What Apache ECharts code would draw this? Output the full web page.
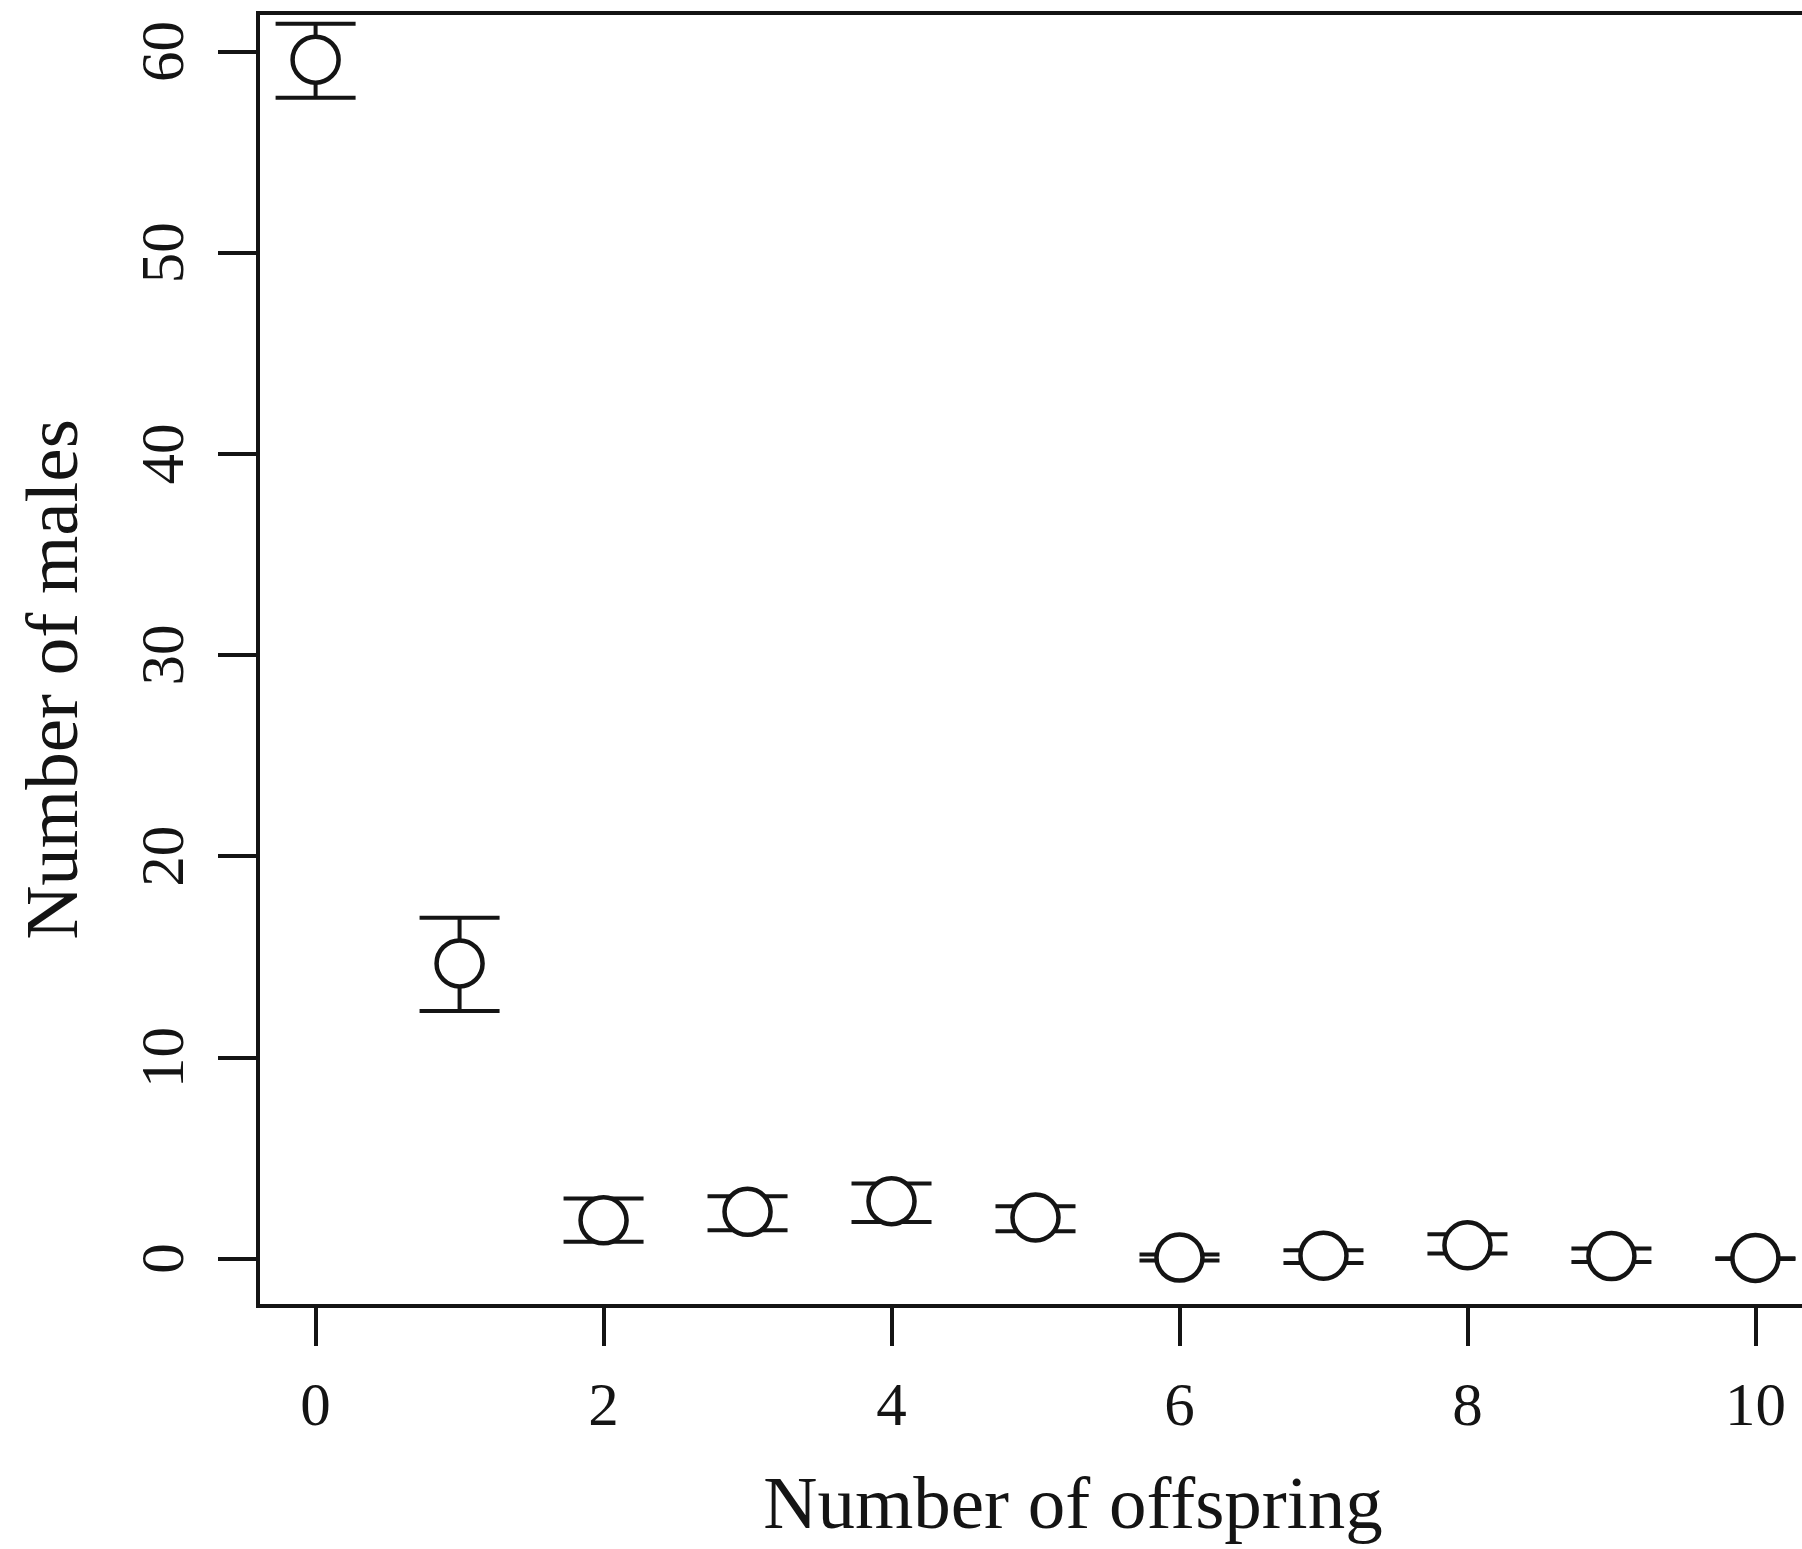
<!DOCTYPE html>
<html>
<head>
<meta charset="utf-8">
<script src="https://cdn.jsdelivr.net/npm/echarts@6/dist/echarts.min.js"></script>
<style>html,body{margin:0;padding:0;background:#fff;}#c{width:1802px;height:1549px;}</style>
</head>
<body>
<div id="c"></div>
<script>
// Data
var offspring = [0, 1, 2, 3, 4, 5, 6, 7, 8, 9, 10];
var meanMales = [59.6, 14.67, 1.9, 2.32, 2.85, 2.04, 0.05, 0.14, 0.66, 0.12, 0.03];
var lowerMales = [57.71, 12.30, 0.83, 1.41, 1.82, 1.36, -0.1, -0.22, 0.25, -0.17, -0.02];
var upperMales = [61.38, 16.94, 2.98, 3.10, 3.73, 2.60, 0.2, 0.41, 1.21, 0.50, 0.02];
var xTickLabels = [0, 2, 4, 6, 8, 10];
var yTickLabels = [0, 10, 20, 30, 40, 50, 60];

var points = offspring.map(function (x, i) { return [x, meanMales[i]]; });
var bars = offspring.map(function (x, i) { return [x, lowerMales[i], upperMales[i]]; });

var FONT = '"Liberation Serif", "Times New Roman", serif';
var INK = '#141414';

var chart = echarts.init(document.getElementById('c'), null, { renderer: 'canvas' });
chart.setOption({
  backgroundColor: '#ffffff',
  animation: false,
  grid: {
    left: 258, top: 13, bottom: 243, width: 1555,
    outerBoundsMode: 'none',
    show: true, borderColor: INK, borderWidth: 4, backgroundColor: 'transparent',
    containLabel: false
  },
  xAxis: {
    type: 'value', min: -0.4, max: 10.4,
    name: 'Number of offspring', nameLocation: 'middle', nameGap: 165,
    nameTextStyle: { fontFamily: FONT, fontSize: 75, color: INK, padding: [0, 0, 0, 75] },
    axisLine: { show: false, onZero: false },
    splitLine: { show: false },
    axisTick: { show: true, inside: false, length: 40, lineStyle: { color: INK, width: 4 }, customValues: xTickLabels },
    axisLabel: { show: true, margin: 72, fontFamily: FONT, fontSize: 61, color: INK, customValues: xTickLabels }
  },
  yAxis: {
    type: 'value', min: -2.36, max: 61.92,
    name: 'Number of males', nameLocation: 'middle', nameGap: 163, nameRotate: 90,
    nameTextStyle: { fontFamily: FONT, fontSize: 75, color: INK, padding: [0, 40, 0, 0] },
    axisLine: { show: false, onZero: false },
    splitLine: { show: false },
    axisTick: { show: true, inside: false, length: 40, lineStyle: { color: INK, width: 4 }, customValues: yTickLabels },
    axisLabel: { show: true, rotate: 90, margin: 61, fontFamily: FONT, fontSize: 61, color: INK, customValues: yTickLabels }
  },
  series: [
    {
      type: 'custom',
      z: 2,
      data: bars,
      renderItem: function (params, api) {
        var x = api.value(0);
        var lo = api.coord([x, api.value(1)]);
        var hi = api.coord([x, api.value(2)]);
        var half = 40;
        var st = { stroke: INK, lineWidth: 4, fill: null };
        return {
          type: 'group',
          children: [
            { type: 'line', shape: { x1: lo[0], y1: lo[1], x2: hi[0], y2: hi[1] }, style: st },
            { type: 'line', shape: { x1: lo[0] - half, y1: lo[1], x2: lo[0] + half, y2: lo[1] }, style: st },
            { type: 'line', shape: { x1: hi[0] - half, y1: hi[1], x2: hi[0] + half, y2: hi[1] }, style: st }
          ]
        };
      }
    },
    {
      type: 'scatter',
      z: 3,
      data: points,
      symbol: 'circle',
      symbolSize: 46,
      itemStyle: { color: '#ffffff', borderColor: INK, borderWidth: 4.5, opacity: 1 }
    }
  ]
});
</script>
</body>
</html>
